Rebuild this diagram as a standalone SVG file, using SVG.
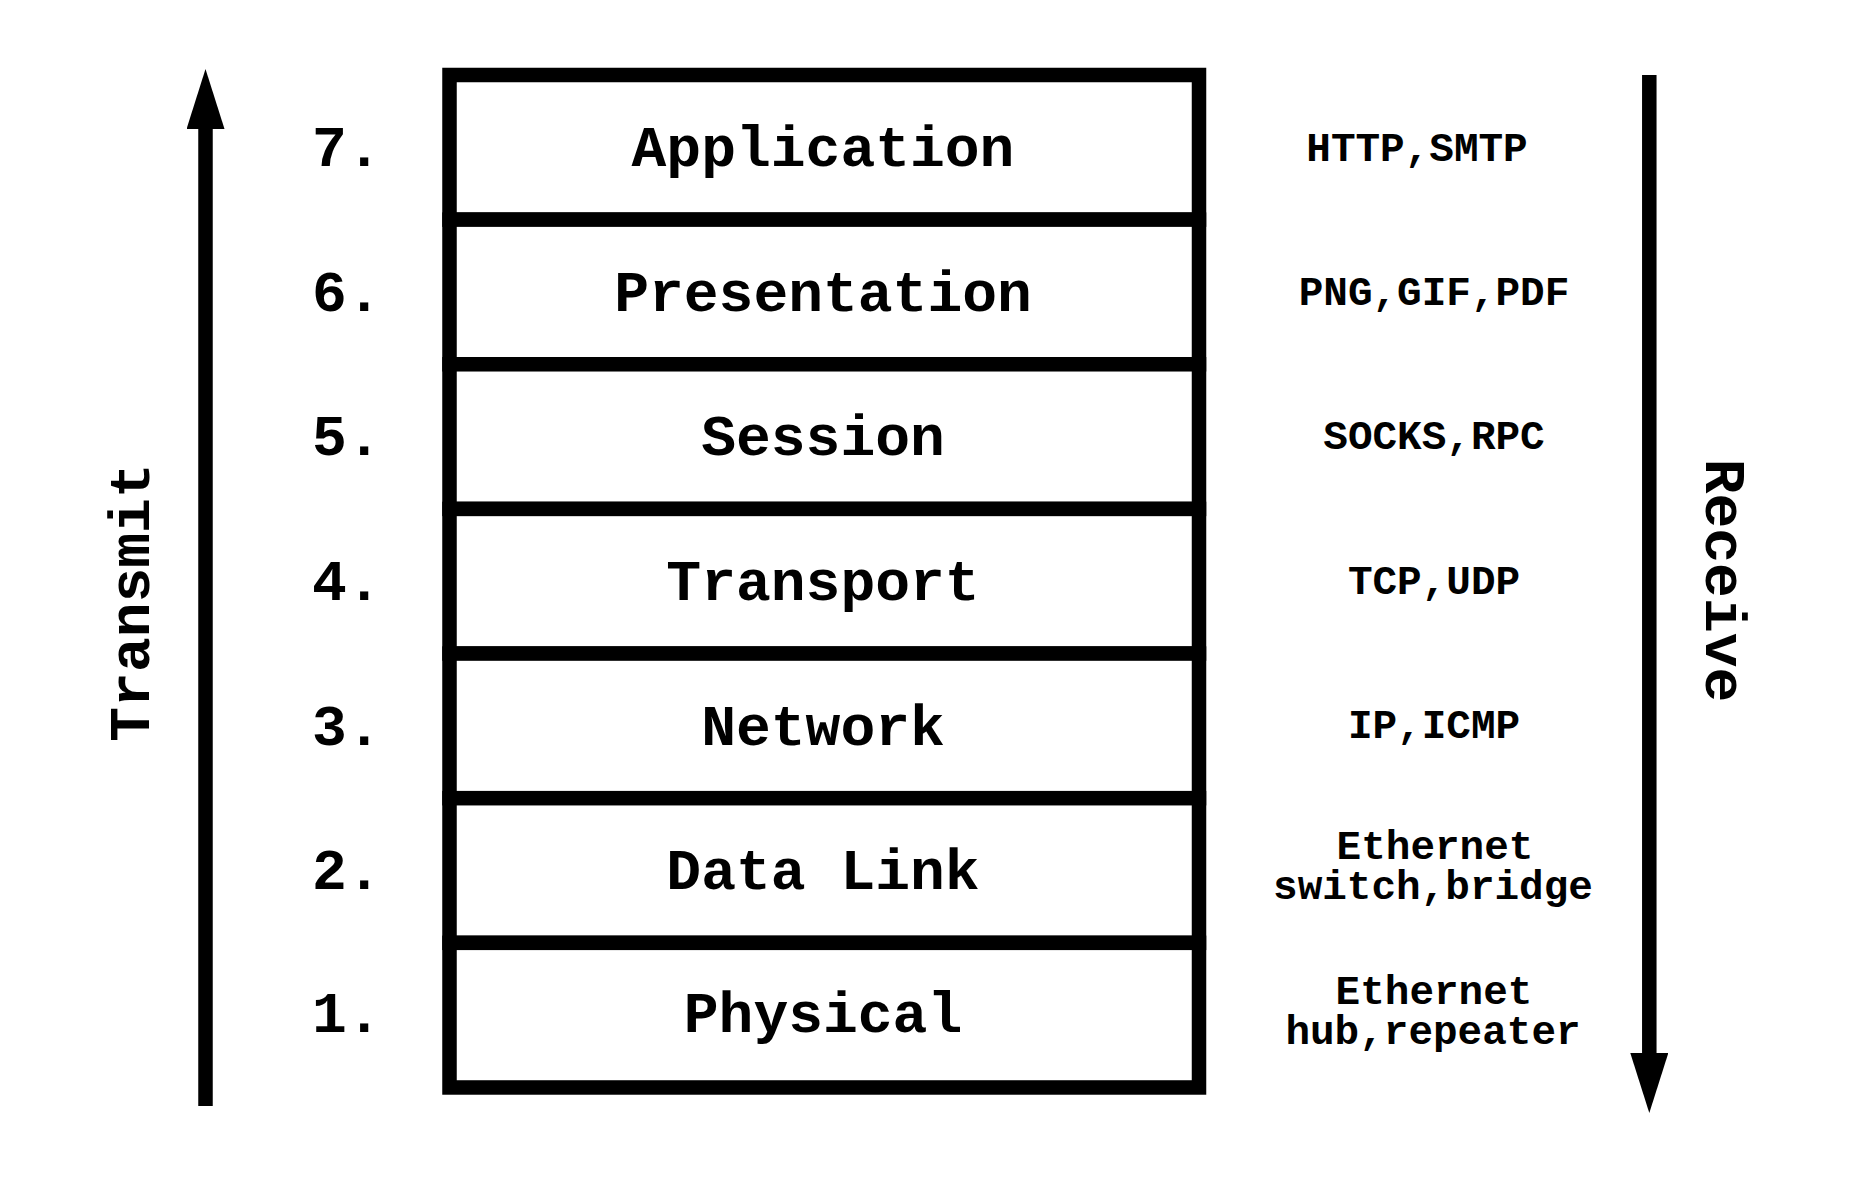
<svg xmlns="http://www.w3.org/2000/svg" width="1856" height="1181" viewBox="0 0 1856 1181">
  <style>
    text { font-family: "Liberation Mono", "Cousine", monospace; font-weight: bold; fill: #000; }
    .layer { fill: #fff; stroke: #000; stroke-width: 14.5; }
    .name { font-size: 58px; text-anchor: middle; }
    .num { font-size: 58px; text-anchor: start; }
    .proto { font-size: 41px; text-anchor: middle; }
    .dir { font-size: 58px; text-anchor: middle; }
    .shaft { stroke: #000; stroke-width: 14.5; fill: none; }
  </style>
  <defs>
    <marker id="head" markerUnits="userSpaceOnUse" markerWidth="60" markerHeight="38" viewBox="0 0 60 38" refX="0" refY="19" orient="auto">
      <path d="M0,0 L60,19 L0,38 Z" fill="#000"/>
    </marker>
  </defs>
  <rect width="1856" height="1181" fill="#fff"/>

  <g id="connectors">
    <line class="shaft" x1="205.5" y1="1106" x2="205.5" y2="129" marker-end="url(#head)"/>
    <line class="shaft" x1="1649.3" y1="75" x2="1649.3" y2="1053" marker-end="url(#head)"/>
  </g>

  <g id="label-transmit">
    <text class="dir" transform="translate(149,602.5) rotate(-90)">Transmit</text>
  </g>
  <g id="label-receive">
    <text class="dir" transform="translate(1706,580.5) rotate(90)">Receive</text>
  </g>

  <g id="layer7">
    <rect class="layer" x="449.5" y="75" width="749.5" height="144.64"/>
    <text class="num" x="312" y="166">7.</text>
    <text class="name" x="823" y="166">Application</text>
    <text class="proto" x="1417" y="161">HTTP,SMTP</text>
  </g>
  <g id="layer6">
    <rect class="layer" x="449.5" y="219.64" width="749.5" height="144.64"/>
    <text class="num" x="312" y="310.6">6.</text>
    <text class="name" x="823" y="310.6">Presentation</text>
    <text class="proto" x="1434" y="305">PNG,GIF,PDF</text>
  </g>
  <g id="layer5">
    <rect class="layer" x="449.5" y="364.28" width="749.5" height="144.64"/>
    <text class="num" x="312" y="455.2">5.</text>
    <text class="name" x="823" y="455.2">Session</text>
    <text class="proto" x="1434" y="449">SOCKS,RPC</text>
  </g>
  <g id="layer4">
    <rect class="layer" x="449.5" y="508.92" width="749.5" height="144.64"/>
    <text class="num" x="312" y="599.9">4.</text>
    <text class="name" x="823" y="599.9">Transport</text>
    <text class="proto" x="1434" y="594">TCP,UDP</text>
  </g>
  <g id="layer3">
    <rect class="layer" x="449.5" y="653.56" width="749.5" height="144.64"/>
    <text class="num" x="312" y="744.5">3.</text>
    <text class="name" x="823" y="744.5">Network</text>
    <text class="proto" x="1434" y="738">IP,ICMP</text>
  </g>
  <g id="layer2">
    <rect class="layer" x="449.5" y="798.2" width="749.5" height="144.64"/>
    <text class="num" x="312" y="889.1">2.</text>
    <text class="name" x="823" y="889.1">Data Link</text>
    <text class="proto"><tspan x="1435" y="859">Ethernet</tspan><tspan x="1433" y="899">switch,bridge</tspan></text>
  </g>
  <g id="layer1">
    <rect class="layer" x="449.5" y="942.84" width="749.5" height="144.64"/>
    <text class="num" x="312" y="1032">1.</text>
    <text class="name" x="823" y="1032">Physical</text>
    <text class="proto"><tspan x="1434" y="1004">Ethernet</tspan><tspan x="1433" y="1044">hub,repeater</tspan></text>
  </g>
</svg>
